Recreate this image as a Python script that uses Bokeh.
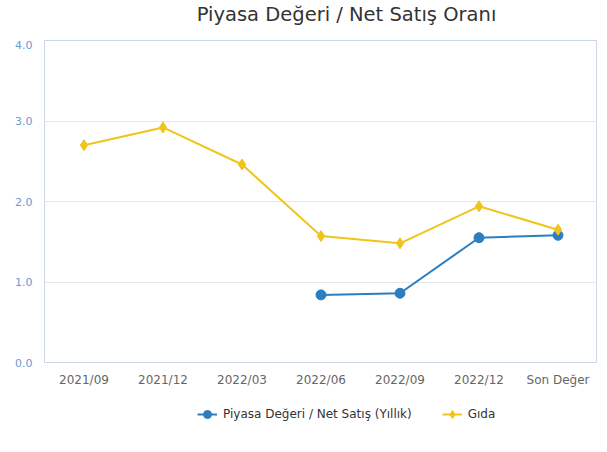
from bokeh.plotting import figure
from bokeh.layouts import column
from bokeh.models import (FactorRange, Range1d, FixedTicker, NumeralTickFormatter,
                          Legend, LegendItem, ColumnDataSource, Label)
from bokeh.embed import file_html
from bokeh.resources import INLINE

categories = ["2021/09", "2021/12", "2022/03", "2022/06", "2022/09", "2022/12", "Son Değer"]
pd_ns = [None, None, None, 0.84, 0.86, 1.55, 1.58]
gida = [2.70, 2.92, 2.46, 1.57, 1.48, 1.94, 1.65]
y_ticks = [0, 1, 2, 3, 4]
title_text = "Piyasa Değeri / Net Satış Oranı"
series_names = ["Piyasa Değeri / Net Satış (Yıllık)", "Gıda"]

BLUE = "#2b7fc0"
YELLOW = "#f0c419"
FONT = "DejaVu Sans"

blue_x = [c for c, v in zip(categories, pd_ns) if v is not None]
blue_y = [v for v in pd_ns if v is not None]
src_b = ColumnDataSource(dict(x=blue_x, y=blue_y))
src_g = ColumnDataSource(dict(x=categories, y=gida))

# --- header (title + menu icon)
p0 = figure(width=597, height=40, output_backend="svg", toolbar_location=None,
            x_axis_type=None, y_axis_type=None, min_border=0)
p0.outline_line_color = None
p0.grid.visible = False
p0.add_layout(Label(x=302, y=26, x_units="screen", y_units="screen", text=title_text,
                    text_font=FONT, text_font_size="19.5px", text_color="#333333",
                    text_align="center", text_baseline="middle"))
p0.add_layout(Label(x=584, y=19, x_units="screen", y_units="screen", text="☰",
                    text_font=FONT, text_font_size="26px", text_font_style="bold",
                    text_color="#555555", text_align="center", text_baseline="middle"))

# --- main chart
p = figure(frame_width=553, frame_height=322, x_range=FactorRange(*categories, range_padding=0),
           y_range=Range1d(0, 4), output_backend="svg", toolbar_location=None,
           min_border_left=44, min_border_right=0, min_border_top=0, min_border_bottom=0)

p.outline_line_color = "#ccd6eb"
p.outline_line_width = 1
p.xgrid.grid_line_color = None
p.ygrid.grid_line_color = "#e6e6e6"

p.yaxis.ticker = FixedTicker(ticks=y_ticks)
p.yaxis.formatter = NumeralTickFormatter(format="0.0")
p.yaxis.axis_line_color = None
p.yaxis.major_tick_line_color = None
p.yaxis.minor_tick_line_color = None
p.yaxis.major_tick_out = 0
p.yaxis.major_label_text_color = "#6a9bd1"
p.yaxis.major_label_text_font = FONT
p.yaxis.major_label_text_font_size = "11px"
p.yaxis.major_label_standoff = 12

p.xaxis.axis_line_color = None
p.xaxis.major_tick_line_color = None
p.xaxis.minor_tick_line_color = None
p.xaxis.major_tick_out = 0
p.xaxis.major_label_text_color = "#666666"
p.xaxis.major_label_text_font = FONT
p.xaxis.major_label_text_font_size = "12px"
p.xaxis.major_label_standoff = 10

p.line("x", "y", source=src_b, line_color=BLUE, line_width=2)
p.scatter("x", "y", source=src_b, marker="circle", size=10, fill_color=BLUE, line_color=BLUE)
p.line("x", "y", source=src_g, line_color=YELLOW, line_width=2)
p.scatter("x", "y", source=src_g, marker="diamond", size=11, fill_color=YELLOW, line_color=YELLOW)

# --- legend strip (same series, view range kept off the data so only the legend shows)
p2 = figure(width=597, height=52, x_range=FactorRange(*categories, range_padding=0),
            y_range=Range1d(10, 11), output_backend="svg", toolbar_location=None,
            x_axis_type=None, y_axis_type=None, min_border=0)
p2.outline_line_color = None
p2.grid.visible = False
lb = p2.line("x", "y", source=src_b, line_color=BLUE, line_width=2)
sb = p2.scatter("x", "y", source=src_b, marker="circle", size=10, fill_color=BLUE, line_color=BLUE)
lg = p2.line("x", "y", source=src_g, line_color=YELLOW, line_width=2)
sg = p2.scatter("x", "y", source=src_g, marker="diamond", size=11, fill_color=YELLOW, line_color=YELLOW)

legend = Legend(items=[LegendItem(label=series_names[0], renderers=[lb, sb]),
                       LegendItem(label=series_names[1], renderers=[lg, sg])],
                orientation="horizontal", location=(153, 17),
                label_text_font=FONT, label_text_font_size="12px", label_text_color="#333333",
                border_line_color=None, background_fill_alpha=0,
                glyph_width=20, spacing=30, margin=0, padding=4, label_standoff=6)
p2.add_layout(legend)

layout = column(p0, p, p2, spacing=0)
open("out.html", "w").write(file_html(layout, INLINE))
